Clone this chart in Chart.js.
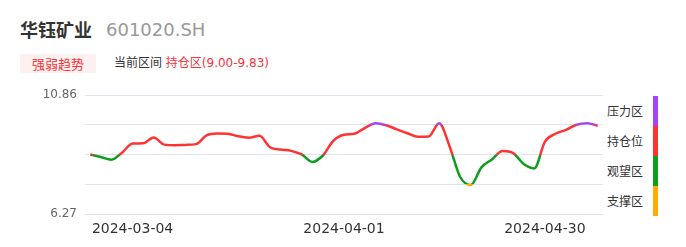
<!DOCTYPE html>
<html>
<head>
<meta charset="utf-8">
<script src="https://cdn.jsdelivr.net/npm/chart.js@4.4.1/dist/chart.umd.min.js"></script>
<style>
    body {
        margin: 0;
        width: 686px;
        height: 247px;
        background: #fff;
        position: relative;
        overflow: hidden;
        font-family: "DejaVu Sans", "Noto Sans CJK SC", sans-serif;
    }
    .abs { position: absolute; white-space: nowrap; }
    #name { left: 20px; top: 17px; font-size: 18px; line-height: 24px; color: #333; font-weight: bold; font-family: "Noto Sans CJK SC", sans-serif; }
    #code { left: 106px; top: 18px; font-size: 18px; line-height: 24px; color: #999; }
    #badge { left: 20px; top: 54px; width: 76px; height: 19px; line-height: 19px; text-align: center; font-size: 13px; color: #f5343a; background: #fdf1ef; font-family: "Noto Sans CJK SC", sans-serif; }
    #range { left: 114px; top: 54px; line-height: 19px; font-size: 12px; color: #333; }
    #range span { color: #f5343a; }
    #chartBox { position: absolute; left: 0; top: 80px; width: 606px; height: 167px; }
    .zone-label { left: 607px; font-size: 12px; line-height: 16px; color: #333; font-family: "Noto Sans CJK SC", sans-serif; }
    .zone-bar { left: 653px; width: 5px; height: 30px; }
</style>
</head>
<body>
<div id="name" class="abs">华钰矿业</div>
<div id="code" class="abs">601020.SH</div>
<div id="badge" class="abs">强弱趋势</div>
<div id="range" class="abs">当前区间 <span>持仓区(9.00-9.83)</span></div>
<div id="chartBox"><canvas id="trendChart"></canvas></div>
<div id="zones"></div>

<script>
// trading days shown on the chart
const dates = [
    '2024-02-27', '2024-02-28', '2024-02-29', '2024-03-01',
    '2024-03-04', '2024-03-05', '2024-03-06', '2024-03-07', '2024-03-08',
    '2024-03-11', '2024-03-12', '2024-03-13', '2024-03-14', '2024-03-15',
    '2024-03-18', '2024-03-19', '2024-03-20', '2024-03-21', '2024-03-22',
    '2024-03-25', '2024-03-26', '2024-03-27', '2024-03-28', '2024-03-29',
    '2024-04-01', '2024-04-02', '2024-04-03',
    '2024-04-08', '2024-04-09', '2024-04-10', '2024-04-11', '2024-04-12',
    '2024-04-15', '2024-04-16', '2024-04-17', '2024-04-18', '2024-04-19',
    '2024-04-22', '2024-04-23', '2024-04-24', '2024-04-25', '2024-04-26',
    '2024-04-29', '2024-04-30',
    '2024-05-06', '2024-05-07', '2024-05-08', '2024-05-09', '2024-05-10'
];

const prices = [
    8.57, 8.47, 8.37, 8.64, 8.99, 9.00, 9.23, 8.95, 8.93, 8.94,
    8.97, 9.31, 9.38, 9.37, 9.27, 9.22, 9.29, 8.85, 8.76, 8.71,
    8.57, 8.28, 8.53, 9.10, 9.33, 9.37, 9.60, 9.78, 9.70, 9.54,
    9.39, 9.25, 9.26, 9.78, 8.87, 7.69, 7.39, 8.07, 8.38, 8.70,
    8.62, 8.20, 8.03, 9.06, 9.37, 9.52, 9.72, 9.78, 9.68
];

const xTickDates = ['2024-03-04', '2024-04-01', '2024-04-30'];
const yTicks = [6.27, 7.4175, 8.565, 9.7125, 10.86];

// top to bottom
const zoneNames = ['压力区', '持仓位', '观望区', '支撑区'];
const zoneColors = ['#a346f5', '#ff3333', '#0c9e1c', '#ffab00'];

// side legend
const zonesEl = document.getElementById('zones');
zoneNames.forEach(function (name, i) {
    const label = document.createElement('div');
    label.className = 'abs zone-label';
    label.style.top = (103 + i * 30) + 'px';
    label.textContent = name;
    zonesEl.appendChild(label);

    const bar = document.createElement('div');
    bar.className = 'abs zone-bar';
    bar.style.top = (96 + i * 30) + 'px';
    bar.style.background = zoneColors[i];
    zonesEl.appendChild(bar);
});

// line colour follows the zone the price is in
function zoneGradient(context) {
    const chart = context.chart;
    const area = chart.chartArea;
    if (!area) return zoneColors[1];
    const y = chart.scales.y;
    const grad = chart.ctx.createLinearGradient(0, area.top, 0, area.bottom);
    const h = area.bottom - area.top;
    const bounds = yTicks.slice(1, -1).reverse(); // upper bounds first
    grad.addColorStop(0, zoneColors[0]);
    bounds.forEach(function (v, i) {
        const f = Math.min(1, Math.max(0, (y.getPixelForValue(v) - area.top) / h));
        grad.addColorStop(f, zoneColors[i]);
        grad.addColorStop(f, zoneColors[i + 1]);
    });
    grad.addColorStop(1, zoneColors[zoneColors.length - 1]);
    return grad;
}

Chart.defaults.font.family = '"DejaVu Sans", sans-serif';

new Chart(document.getElementById('trendChart'), {
    type: 'line',
    data: {
        labels: dates,
        datasets: [{
            data: prices,
            borderColor: zoneGradient,
            borderWidth: 2.5,
            pointRadius: 0,
            cubicInterpolationMode: 'monotone',
            fill: false
        }]
    },
    options: {
        responsive: true,
        maintainAspectRatio: false,
        animation: false,
        layout: { padding: { top: 14, right: 3, left: 0, bottom: 0 } },
        plugins: {
            legend: { display: false },
            tooltip: { enabled: false }
        },
        scales: {
            x: {
                type: 'category',
                offset: true,
                grid: { display: false },
                border: { display: false },
                afterFit: function (scale) { scale.height = 33; },
                ticks: {
                    autoSkip: false,
                    maxRotation: 0,
                    minRotation: 0,
                    padding: -1,
                    color: '#333',
                    font: { size: 14 },
                    callback: function (val, i) {
                        return xTickDates.includes(dates[i]) ? dates[i] : '';
                    }
                }
            },
            y: {
                min: yTicks[0],
                max: yTicks[yTicks.length - 1],
                afterBuildTicks: function (scale) {
                    scale.ticks = yTicks.map(function (v) { return { value: v }; });
                },
                afterFit: function (scale) { scale.width = 85; },
                grid: { color: '#e1e4ef', drawTicks: false },
                border: { display: false },
                ticks: {
                    padding: 8,
                    color: '#666',
                    font: { size: 12 },
                    callback: function (v, i, ticks) {
                        return (i === 0 || i === ticks.length - 1) ? v.toFixed(2) : '';
                    }
                }
            }
        }
    }
});
</script>
</body>
</html>
